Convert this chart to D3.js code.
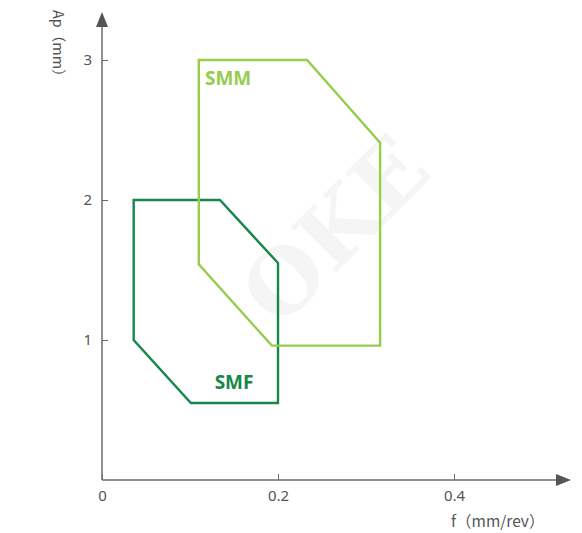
<!DOCTYPE html>
<html>
<head>
<meta charset="utf-8">
<script src="https://cdn.jsdelivr.net/npm/d3@7"></script>
<style>
  body { margin: 0; background: #fff; }
  svg { display: block; font-family: "Noto Sans", Lato, sans-serif; }
</style>
</head>
<body>
<div id="chart"></div>
<script>
// data
let smfF = [0.036, 0.134, 0.2, 0.2, 0.101, 0.036]
let smfAp = [2.0, 2.0, 1.55, 0.55, 0.55, 1.0]
let smmF = [0.110, 0.233, 0.316, 0.316, 0.193, 0.110]
let smmAp = [3.0, 3.0, 2.41, 0.96, 0.96, 1.54]
let xTicks = [0, 0.2, 0.4]
let yTicks = [1, 2, 3]
let names = ['SMF', 'SMM']

let W = 582, H = 533
let svg = d3.select('#chart').append('svg')
    .attr('width', W).attr('height', H)

let x = d3.scaleLinear().domain([0, 0.2]).range([102, 278])
let y = d3.scaleLinear().domain([0, 1]).range([480, 340])

// watermark
svg.append('text')
    .attr('transform', 'translate(335,230) rotate(-45)')
    .attr('text-anchor', 'middle')
    .attr('dominant-baseline', 'central')
    .style('font-family', '"DejaVu Serif", "Liberation Serif", serif')
    .style('font-weight', 'bold')
    .style('font-size', '88px')
    .style('fill', '#f5f5f5')
    .text('OKE')

// axes
let axisColor = '#6b6b6b'
svg.append('line')
    .attr('x1', x(0)).attr('y1', y(0)).attr('x2', 560).attr('y2', y(0))
    .style('stroke', axisColor).style('stroke-width', 1.5)
svg.append('line')
    .attr('x1', x(0)).attr('y1', y(0)).attr('x2', x(0)).attr('y2', 24)
    .style('stroke', axisColor).style('stroke-width', 1.5)
svg.append('path')
    .attr('d', 'M571,' + y(0) + 'L556,' + (y(0) - 6) + 'L556,' + (y(0) + 6) + 'Z')
    .style('fill', '#555')
svg.append('path')
    .attr('d', 'M' + x(0) + ',12L' + (x(0) - 6) + ',27L' + (x(0) + 6) + ',27Z')
    .style('fill', '#555')

let xAxis = d3.axisBottom(x).tickValues(xTicks).tickSizeInner(-6).tickSizeOuter(0)
    .tickFormat(d => d === 0 ? '0' : d3.format('.1f')(d)).tickPadding(10)
let gx = svg.append('g').attr('transform', 'translate(0,' + y(0) + ')').call(xAxis)
gx.select('.domain').remove()
gx.selectAll('.tick line').style('stroke', axisColor)
gx.selectAll('.tick text').style('fill', '#555').style('font-size', '15px')
    .style('font-family', '"Noto Sans", sans-serif')

let yAxis = d3.axisLeft(y).tickValues(yTicks).tickFormat(d3.format('d'))
    .tickSizeInner(-6).tickSizeOuter(0).tickPadding(10)
let gy = svg.append('g').attr('transform', 'translate(' + x(0) + ',0)').call(yAxis)
gy.select('.domain').remove()
gy.selectAll('.tick line').style('stroke', axisColor)
gy.selectAll('.tick text').style('fill', '#555').style('font-size', '15px')
    .style('font-family', '"Noto Sans", sans-serif')

// axis titles
svg.append('text')
    .attr('transform', 'translate(53,10) rotate(90)')
    .style('fill', '#555').style('font-size', '14.5px')
    .style('font-family', '"Noto Sans CJK SC", "Noto Sans", sans-serif')
    .text('Ap（mm）')
svg.append('text')
    .attr('x', 451).attr('y', 527)
    .style('fill', '#555').style('font-size', '15.5px')
    .style('font-family', '"Noto Sans CJK SC", "Noto Sans", sans-serif')
    .text('f（mm/rev）')

// polygons
let colors = ['#17874a', '#97cc4c']
let polys = [
    smfF.map((f, i) => [f, smfAp[i]]),
    smmF.map((f, i) => [f, smmAp[i]])
]
let line = d3.line().x(d => x(d[0])).y(d => y(d[1])).curve(d3.curveLinearClosed)

svg.selectAll('.area')
    .data(polys)
    .enter()
    .append('path')
    .attr('class', 'area')
    .attr('d', line)
    .style('fill', 'none')
    .style('stroke', (d, i) => colors[i])
    .style('stroke-width', 2.4)

// labels
let labelPos = [[0.128, 0.65], [0.117, 2.82]]
svg.selectAll('.lab')
    .data(names)
    .enter()
    .append('text')
    .attr('class', 'lab')
    .attr('x', (d, i) => x(labelPos[i][0]))
    .attr('y', (d, i) => y(labelPos[i][1]))
    .style('fill', (d, i) => colors[i])
    .style('font-weight', 'bold')
    .style('font-size', '19px')
    .text(d => d)
</script>
</body>
</html>
